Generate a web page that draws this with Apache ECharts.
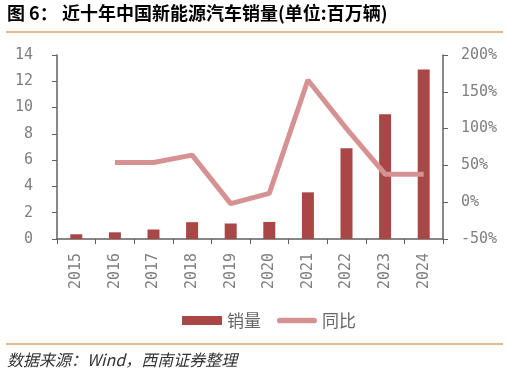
<!DOCTYPE html>
<html>
<head>
<meta charset="utf-8">
<script src="https://cdn.jsdelivr.net/npm/echarts@6/dist/echarts.min.js"></script>
<style>
  html, body { margin: 0; padding: 0; background: #fff; }
  #chart { width: 508px; height: 378px; }
</style>
</head>
<body>
<div id="chart"></div>
<script>
const years = ['2015', '2016', '2017', '2018', '2019', '2020', '2021', '2022', '2023', '2024'];
// 销量, 百万辆
const sales = [0.36, 0.51, 0.72, 1.28, 1.18, 1.3, 3.55, 6.9, 9.5, 12.9];
// 同比, %
const growth = [null, 54, 54, 64, -2, 12, 166, 100, 38, 38];
const leftTicks = { min: 0, max: 14, interval: 2 };
const rightTicks = { min: -50, max: 200, interval: 50 };

const barColor = '#a94646';
const lineColor = '#d69292';
const axisColor = '#606060';
const labelColor = '#7f7f7f';
const monoFont = '"DejaVu Sans Mono", monospace';
const cjkFont = '"Noto Sans CJK SC", sans-serif';
// capsule shaped legend icon for the line series
const lineIcon = 'path://M3,0 L39,0 A3,3 0 0 1 39,6 L3,6 A3,3 0 0 1 3,0 Z';

const chart = echarts.init(document.getElementById('chart'), null, { renderer: 'canvas' });

chart.setOption({
  animation: false,
  backgroundColor: '#fff',
  grid: { left: 57, right: 65, top: 55, bottom: 139, containLabel: false },
  graphic: [
    {
      type: 'text', left: 7, top: 4,
      style: { text: '图 6：', font: 'bold 18px ' + cjkFont, fill: '#000' }
    },
    {
      type: 'text', left: 62, top: 4,
      style: { text: '近十年中国新能源汽车销量(单位:百万辆)', font: 'bold 18px ' + cjkFont, fill: '#000' }
    },
    {
      type: 'line', shape: { x1: 6, y1: 32, x2: 503, y2: 32 },
      style: { stroke: '#d8a468', lineWidth: 1.5 }
    },
    {
      type: 'line', shape: { x1: 6, y1: 344, x2: 503, y2: 344 },
      style: { stroke: '#d8a468', lineWidth: 1.5 }
    },
    {
      type: 'text', left: 7, top: 352,
      style: { text: '数据来源：Wind，西南证券整理', font: 'italic 16px ' + cjkFont, fill: '#333' }
    }
  ],
  legend: {
    top: 307,
    left: 177,
    itemWidth: 40,
    itemHeight: 9,
    itemGap: 16,
    textStyle: { fontFamily: cjkFont, fontSize: 17, color: '#666' },
    data: [
      { name: '销量', icon: 'rect' },
      { name: '同比', icon: lineIcon }
    ]
  },
  xAxis: {
    type: 'category',
    data: years,
    boundaryGap: true,
    axisLine: { lineStyle: { color: axisColor, width: 1.5 } },
    axisTick: { show: true, length: 5, inside: false, lineStyle: { color: axisColor } },
    axisLabel: { rotate: 90, margin: 14, color: labelColor, fontFamily: monoFont, fontSize: 15 }
  },
  yAxis: [
    {
      type: 'value',
      min: leftTicks.min, max: leftTicks.max, interval: leftTicks.interval,
      axisLine: { show: true, lineStyle: { color: axisColor, width: 1.5 } },
      axisTick: { show: true, length: 5, lineStyle: { color: axisColor } },
      splitLine: { show: false },
      axisLabel: { margin: 24, color: labelColor, fontFamily: monoFont, fontSize: 15 }
    },
    {
      type: 'value',
      position: 'right',
      min: rightTicks.min, max: rightTicks.max, interval: rightTicks.interval,
      axisLine: { show: true, lineStyle: { color: axisColor, width: 1.5 } },
      axisTick: { show: true, length: 5, lineStyle: { color: axisColor } },
      splitLine: { show: false },
      axisLabel: { margin: 18, color: labelColor, fontFamily: monoFont, fontSize: 15, formatter: '{value}%' }
    }
  ],
  series: [
    {
      name: '销量',
      type: 'bar',
      barWidth: 12,
      itemStyle: { color: barColor },
      data: sales
    },
    {
      name: '同比',
      type: 'line',
      yAxisIndex: 1,
      symbol: 'none',
      lineStyle: { color: lineColor, width: 5 },
      itemStyle: { color: lineColor },
      data: growth
    }
  ]
});
</script>
</body>
</html>
